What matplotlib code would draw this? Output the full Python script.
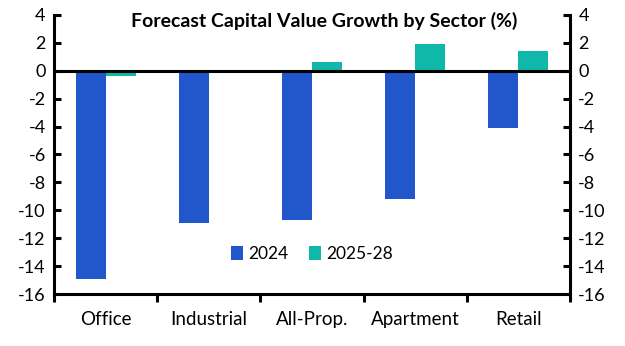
import matplotlib
matplotlib.use("Agg")
import matplotlib.pyplot as plt
import numpy as np

categories = ["Office", "Industrial", "All-Prop.", "Apartment", "Retail"]
series_2024 = [-14.9, -10.9, -10.7, -9.2, -4.1]
series_2025_28 = [-0.4, 0.0, 0.6, 1.9, 1.4]
yticks = [4, 2, 0, -2, -4, -6, -8, -10, -12, -14, -16]

plt.rcParams['font.family'] = ['Lato', 'DejaVu Sans']

fig = plt.figure(figsize=(6.25, 3.46), dpi=100)
ax = fig.add_axes([0.0864, 0.150, 0.8256, 0.807])

x = np.arange(len(categories))
w = 0.29
blue = "#2157CB"
teal = "#0FB8A8"
ax.bar(x - w/2, series_2024, width=w, color=blue, label="2024", zorder=2)
ax.bar(x + w/2, series_2025_28, width=w, color=teal, label="2025-28", zorder=2)

ax.set_xlim(-0.5, len(categories) - 0.5)
ax.set_ylim(-16, 4)
ax.set_yticks(yticks)
ax.set_yticklabels([str(t) for t in yticks])
ax.axhline(0, color="black", lw=2.2, zorder=3)

ax.set_xticks(np.arange(-0.5, len(categories), 1.0))
ax.set_xticklabels([])
ax.set_xticks(x, minor=True)
ax.set_xticklabels(categories, minor=True)
ax.tick_params(axis='x', which='major', direction='out', length=6, width=2.2)
ax.tick_params(axis='x', which='minor', length=0, labelsize=13.5, pad=12)
ax.tick_params(axis='y', direction='in', length=5, width=2.2, labelsize=13,
               left=True, right=True, labelleft=True, labelright=True, pad=6)

for s in ["left", "right", "bottom"]:
    ax.spines[s].set_linewidth(2.2)
ax.spines["top"].set_visible(False)

ax.text(0.523, 1.01, "Forecast Capital Value Growth by Sector (%)", transform=ax.transAxes,
        ha="center", va="top", fontsize=14, fontweight="bold")

ax.legend(loc="center", bbox_to_anchor=(0.5, 0.143), ncol=2, frameon=False,
          fontsize=12.5, handlelength=0.7, handleheight=0.9, handletextpad=0.3,
          columnspacing=1.2)

fig.savefig("out.png", dpi=100)
